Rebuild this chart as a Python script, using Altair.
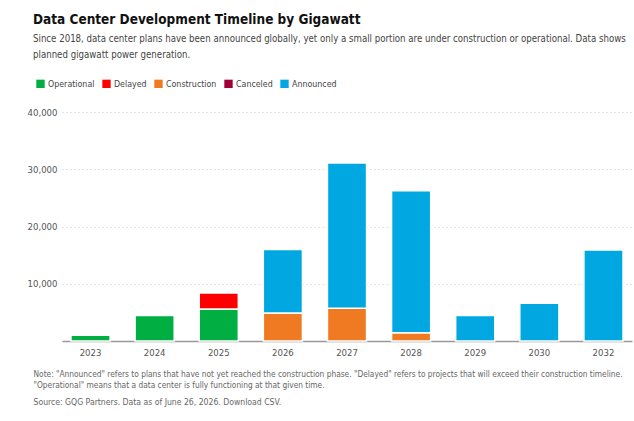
import altair as alt
import pandas as pd

years = ["2023", "2024", "2025", "2026", "2027", "2028", "2029", "2030", "2031", "2032"]
statuses = ["Operational", "Delayed", "Construction", "Canceled", "Announced"]
colors = ["#00AE42", "#FF0000", "#F07A22", "#A0003A", "#00A7E1"]

operational = [1000, 4450, 5600, 0, 0, 0, 0, 0, 0, 0]
delayed = [0, 0, 2800, 0, 0, 0, 0, 0, 0, 0]
construction = [0, 0, 0, 4900, 5700, 1450, 0, 0, 0, 0]
canceled = [0, 0, 0, 0, 0, 0, 0, 0, 0, 0]
announced = [0, 0, 0, 11100, 25400, 24800, 4450, 6600, 0, 15900]

series = [operational, delayed, construction, canceled, announced]
rows = []
for si, (name, vals) in enumerate(zip(statuses, series)):
    for y, v in zip(years, vals):
        rows.append({"year": y, "status": name, "value": v, "order": si})
df = pd.DataFrame(rows)

FONT = "DejaVu Sans Condensed, DejaVu Sans, sans-serif"

title_text = "Data Center Development Timeline by Gigawatt"
subtitle_lines = [
    "Since 2018, data center plans have been announced globally, yet only a small portion are under construction or operational. Data shows",
    "planned gigawatt power generation.",
]
note_lines = [
    "Note: \"Announced\" refers to plans that have not yet reached the construction phase. \"Delayed\" refers to projects that will exceed their construction timeline.",
    "\"Operational\" means that a data center is fully functioning at that given time.",
]
source_line = "Source: GQG Partners. Data as of June 26, 2026. Download CSV."

chart = (
    alt.Chart(df)
    .transform_filter(alt.datum.value > 0)
    .mark_bar(stroke="white", strokeWidth=1.5)
    .encode(
        x=alt.X(
            "year:N",
            sort=years,
            scale=alt.Scale(paddingInner=0.39, paddingOuter=0.14),
            axis=alt.Axis(
                title=note_lines,
                titleFont=FONT,
                titleFontSize=8.3,
                titleFontWeight="normal",
                titleColor="#666",
                titleAlign="left",
                titleAnchor="start",
                titleBaseline="middle",
                titleLineHeight=11,
                titleX=-29,
                titleY=33,
                labelAngle=0,
                labelFont=FONT,
                labelFontSize=9.5,
                labelColor="#555",
                labelPadding=6,
                ticks=False,
                domainColor="#999",
                domainWidth=1.5,
            ),
        ),
        y=alt.Y(
            "value:Q",
            stack="zero",
            scale=alt.Scale(domain=[0, 40000]),
            axis=alt.Axis(
                values=[10000, 20000, 30000, 40000],
                format=",.0f",
                title=source_line,
                titleFont=FONT,
                titleFontSize=8.6,
                titleFontWeight="normal",
                titleColor="#666",
                titleAngle=0,
                titleAlign="left",
                titleBaseline="middle",
                titleX=-29,
                titleY=289,
                labelFont=FONT,
                labelFontSize=9.5,
                labelColor="#555",
                labelPadding=5,
                ticks=False,
                domain=False,
                grid=True,
                gridColor="#c8c8c8",
                gridDash=[1, 3],
            ),
        ),
        color=alt.Color(
            "status:N",
            scale=alt.Scale(domain=statuses, range=colors),
            legend=alt.Legend(
                title=None,
                orient="none",
                legendX=-26,
                legendY=-33,
                direction="horizontal",
                columns=5,
                symbolType="square",
                symbolSize=70,
                symbolStrokeWidth=0,
                symbolOpacity=1,
                labelFont=FONT,
                labelFontSize=8.8,
                labelColor="#444",
                labelOffset=3,
                columnPadding=7,
            ),
        ),
        order=alt.Order("order:Q", sort="ascending"),
    )
    .properties(
        width=570,
        height=229,
        background="white",
        autosize=alt.AutoSizeParams(type="none"),
        padding={"left": 62, "top": 112, "right": 2, "bottom": 80},
        title=alt.TitleParams(
            text=title_text,
            subtitle=subtitle_lines,
            anchor="start",
            frame="group",
            orient="top",
            dx=-29,
            offset=19,
            font=FONT,
            fontSize=13.5,
            fontWeight="bold",
            color="#111",
            subtitleFont=FONT,
            subtitleFontSize=9.6,
            subtitleColor="#444",
            subtitleLineHeight=16,
            subtitlePadding=8,
        ),
    )
    .configure_view(stroke=None)
)

chart.save("out.html", embed_options={"renderer": "svg", "actions": False})
